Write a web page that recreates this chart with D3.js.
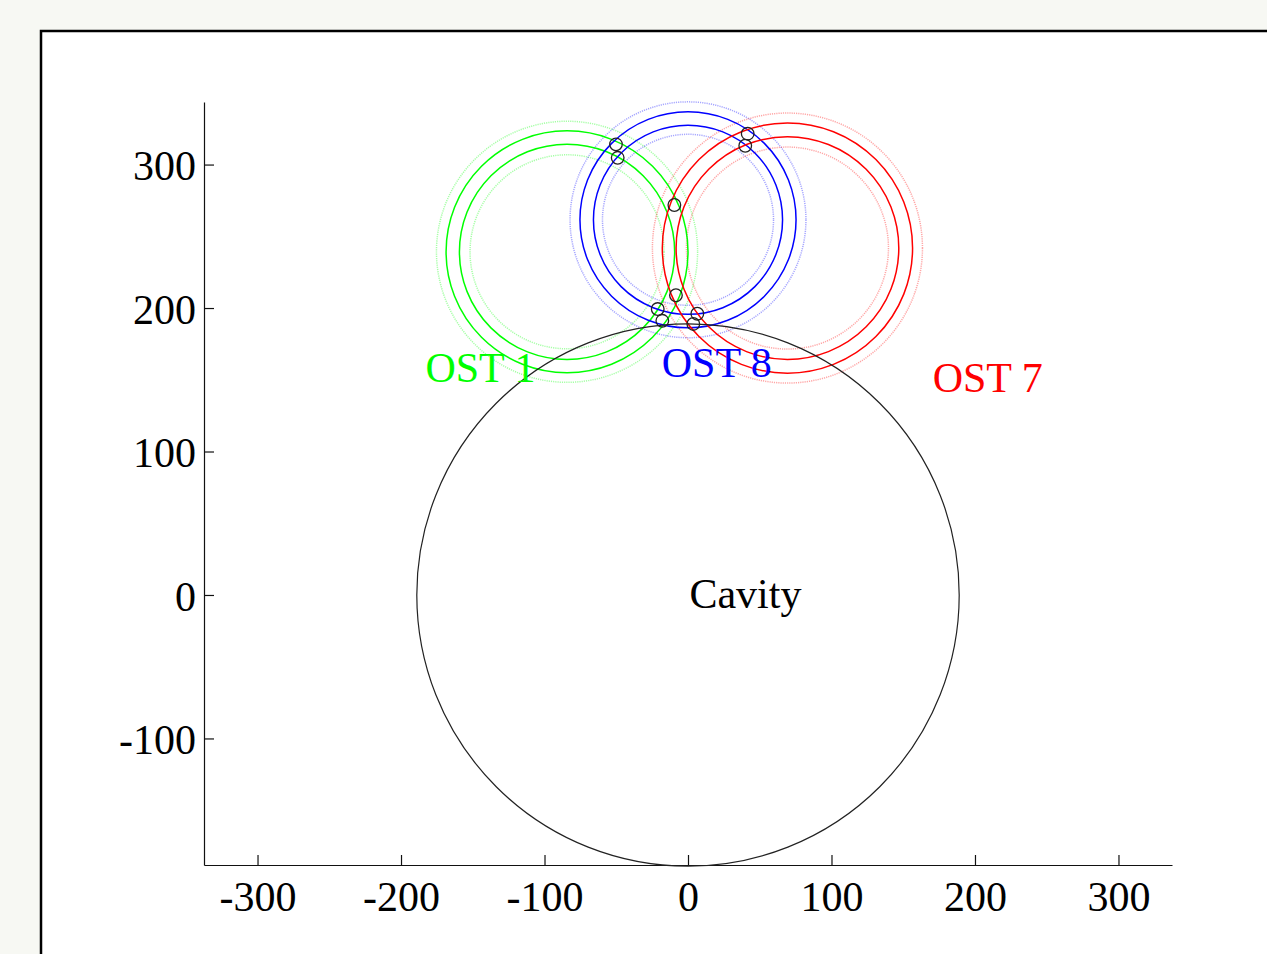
<!DOCTYPE html>
<html>
<head>
<meta charset="utf-8">
<script src="https://cdn.jsdelivr.net/npm/d3@7"></script>
<style>
  html, body { margin: 0; padding: 0; background: #f7f8f3; }
  svg { display: block; }
  text { font-family: "Liberation Serif", "Times New Roman", serif; }
</style>
</head>
<body>
<svg id="chart" width="1267" height="954"></svg>
<script>
// Axis ticks
const xTicks = [-300, -200, -100, 0, 100, 200, 300];
const yTicks = [-100, 0, 100, 200, 300];

// Sensor stations: centre and range rings (dotted = outer band, solid = inner band)
const stationNames  = ["OST 1", "OST 8", "OST 7"];
const stationColors = ["#00ff00", "#0000ff", "#ff0000"];
const stationX      = [-84.3, 0.0, 69.3];
const stationY      = [239.2, 261.5, 241.8];
const dottedInner   = [67.6, 59.6, 70.4];
const solidInner    = [75.0, 65.9, 77.6];
const solidOuter    = [84.3, 75.3, 87.2];
const dottedOuter   = [91.0, 82.2, 94.1];
const labelX        = [-183.0, -18.3, 170.5];
const labelY        = [148.6, 152.0, 141.7];

// Cavity outline
const cavityX = 0, cavityY = 0, cavityR = 189;
const cavityLabelX = 1.0, cavityLabelY = -9.3;

// Ring intersection points
const markerX = [-50.2, -49.0, 41.6, 39.9, -9.5, -8.4, -21.1, -17.9, 6.5, 3.7];
const markerY = [314.1, 304.7, 321.5, 313.1, 271.8, 208.9, 199.3, 191.1, 196.0, 188.9];

const svg = d3.select("#chart");

// Figure frame
svg.append("rect")
  .attr("x", 41).attr("y", 31)
  .attr("width", 1300).attr("height", 1000)
  .attr("fill", "#ffffff")
  .attr("stroke", "#000").attr("stroke-width", 2.5);

const x = d3.scaleLinear().domain([-337.3, 337.3]).range([204, 1172]);
const y = d3.scaleLinear().domain([-188.2, 343.6]).range([865, 102]);
const rx = r => x(r) - x(0);
const ry = r => y(0) - y(r);

const fontSize = 42;

// Axes (ticks point inward, as in the original plot)
const xAxis = d3.axisBottom(x).tickValues(xTicks).tickFormat(d => String(d))
  .tickSizeInner(-10).tickSizeOuter(0).tickPadding(16);
const yAxis = d3.axisLeft(y).tickValues(yTicks).tickFormat(d => String(d))
  .tickSizeInner(-10).tickSizeOuter(0).tickPadding(8);

const gx = svg.append("g").attr("transform", `translate(0,${y(-188.2)})`).call(xAxis);
const gy = svg.append("g").attr("transform", `translate(${x(-337.3)},0)`).call(yAxis);
[gx, gy].forEach(g => {
  g.selectAll("path, line").attr("stroke", "#111").attr("stroke-width", 1.2);
  g.selectAll("text").attr("fill", "#000").attr("font-size", fontSize)
    .style("font-family", "'Liberation Serif', 'Times New Roman', serif");
});
gy.selectAll("text").attr("dy", "0.36em");

const plot = svg.append("g");

// Dotted outer bands
stationNames.forEach((name, i) => {
  [dottedInner[i], dottedOuter[i]].forEach(r => {
    plot.append("ellipse")
      .attr("cx", x(stationX[i])).attr("cy", y(stationY[i]))
      .attr("rx", rx(r)).attr("ry", ry(r))
      .attr("fill", "none")
      .attr("stroke", stationColors[i])
      .attr("stroke-opacity", 0.35)
      .attr("stroke-width", 1.5)
      .attr("stroke-dasharray", "1.2,1");
  });
});

// Solid inner bands
stationNames.forEach((name, i) => {
  [solidInner[i], solidOuter[i]].forEach(r => {
    plot.append("ellipse")
      .attr("cx", x(stationX[i])).attr("cy", y(stationY[i]))
      .attr("rx", rx(r)).attr("ry", ry(r))
      .attr("fill", "none")
      .attr("stroke", stationColors[i])
      .attr("stroke-width", 1.5);
  });
});

// Cavity
plot.append("ellipse")
  .attr("cx", x(cavityX)).attr("cy", y(cavityY))
  .attr("rx", rx(cavityR)).attr("ry", ry(cavityR))
  .attr("fill", "none")
  .attr("stroke", "#222").attr("stroke-width", 1.2);

// Intersection markers
plot.selectAll("circle.marker")
  .data(markerX.map((mx, i) => [mx, markerY[i]]))
  .join("circle")
  .attr("class", "marker")
  .attr("cx", d => x(d[0])).attr("cy", d => y(d[1]))
  .attr("r", 6.3)
  .attr("fill", "none")
  .attr("stroke", "#222").attr("stroke-width", 1.3);

// Station labels
stationNames.forEach((name, i) => {
  plot.append("text")
    .attr("x", x(labelX[i])).attr("y", y(labelY[i]))
    .attr("fill", stationColors[i])
    .attr("font-size", fontSize)
    .text(name);
});

plot.append("text")
  .attr("x", x(cavityLabelX)).attr("y", y(cavityLabelY))
  .attr("fill", "#000")
  .attr("font-size", fontSize)
  .text("Cavity");
</script>
</body>
</html>
